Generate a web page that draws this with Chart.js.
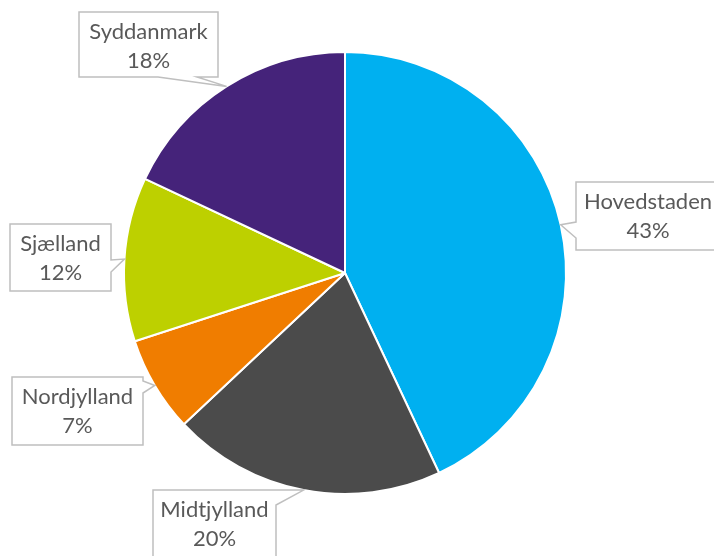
<!DOCTYPE html>
<html>
<head>
<meta charset="utf-8">
<script src="https://cdn.jsdelivr.net/npm/chart.js@4/dist/chart.umd.min.js"></script>
<style>
  html, body { margin:0; padding:0; background:#fff; }
  #wrap { width:714px; height:556px; }
</style>
</head>
<body>
<div id="wrap"><canvas id="pie" width="714" height="556"></canvas></div>
<script>
// Data
const regions = ['Hovedstaden', 'Midtjylland', 'Nordjylland', 'Sjælland', 'Syddanmark'];
const shares  = [43, 20, 7, 12, 18];
const sliceColors = ['#00B0F0', '#4B4B4B', '#F07D00', '#BDD000', '#45237A'];

// Callout boxes (outline clockwise, 'tip' = where the wedge points at the slice)
const callouts = [
  { box:[576,182,720,250], outline:[[576,182],[720,182],[720,250],[576,250],[576,238],'tip',[576,222]] },
  { box:[153,490,276,580], outline:[[153,490],[268,490],'tip',[276,505],[276,580],[153,580]] },
  { box:[12,377,143,445],  outline:[[12,377],[143,377],[143,381],'tip',[143,393],[143,445],[12,445]] },
  { box:[10,224,111,291],  outline:[[10,224],[111,224],[111,260],'tip',[111,272],[111,291],[10,291]] },
  { box:[79,12,218,77],    outline:[[79,12],[218,12],[218,77],[197,77],'tip',[158,77],[79,77]] }
];

const calloutPlugin = {
  id: 'callouts',
  afterDatasetsDraw(chart){
    const ctx = chart.ctx;
    const meta = chart.getDatasetMeta(0);
    const total = shares.reduce((a,b)=>a+b,0);
    meta.data.forEach((arc, i) => {
      const c = callouts[i];
      const { x, y, startAngle, endAngle, outerRadius } = arc.getProps(['x','y','startAngle','endAngle','outerRadius'], true);
      const mid = (startAngle + endAngle) / 2;
      const tip = [x + Math.cos(mid) * outerRadius, y + Math.sin(mid) * outerRadius];

      ctx.save();
      ctx.beginPath();
      c.outline.forEach((p, k) => {
        const pt = p === 'tip' ? tip : p;
        if (k === 0) ctx.moveTo(pt[0], pt[1]); else ctx.lineTo(pt[0], pt[1]);
      });
      ctx.closePath();
      ctx.fillStyle = '#fff';
      ctx.fill();
      ctx.lineWidth = 1.5;
      ctx.strokeStyle = '#BFBFBF';
      ctx.lineJoin = 'miter';
      ctx.stroke();

      const [x1, y1, x2] = c.box;
      const cx = (x1 + x2) / 2;
      ctx.fillStyle = '#595959';
      ctx.font = '22px Lato';
      ctx.textAlign = 'center';
      ctx.textBaseline = 'alphabetic';
      ctx.fillText(regions[i], cx, y1 + 27);
      ctx.fillText(Math.round(shares[i] / total * 100) + '%', cx, y1 + 56);
      ctx.restore();
    });
  }
};

new Chart(document.getElementById('pie'), {
  type: 'pie',
  data: {
    labels: regions,
    datasets: [{
      data: shares,
      backgroundColor: sliceColors,
      borderColor: '#fff',
      borderWidth: 2
    }]
  },
  options: {
    responsive: false,
    animation: false,
    layout: { padding: { left:123, right:147, top:51, bottom:61 } },
    plugins: {
      legend: { display:false },
      tooltip: { enabled:false }
    }
  },
  plugins: [calloutPlugin]
});
</script>
</body>
</html>
